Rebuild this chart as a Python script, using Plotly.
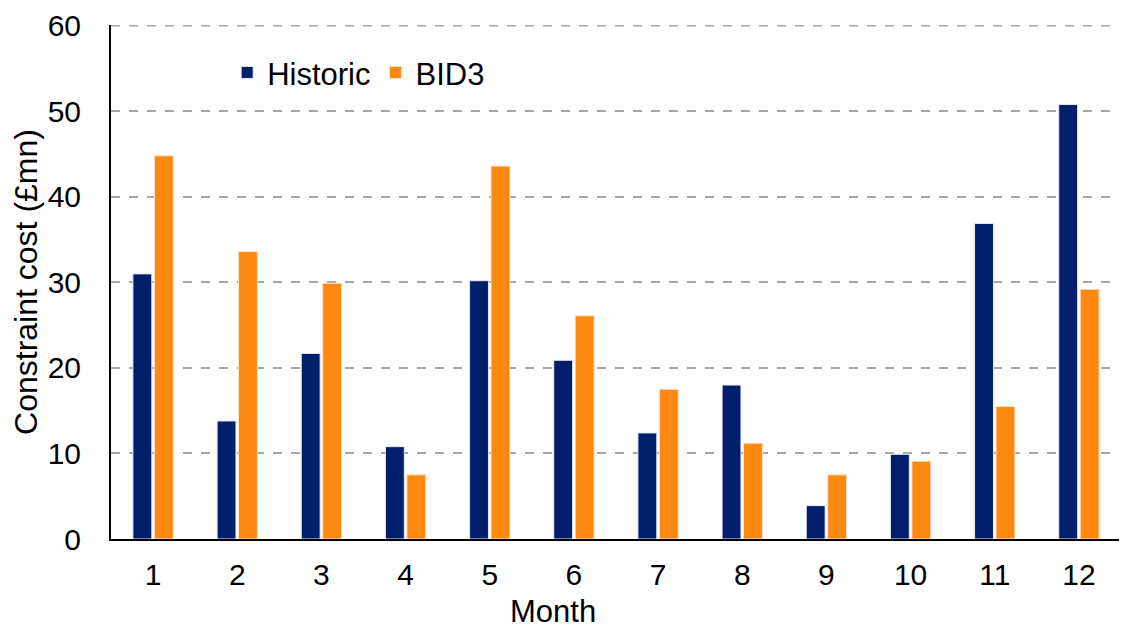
import plotly.graph_objects as go

months = [str(i) for i in range(1, 13)]
historic = [31.0, 13.8, 21.7, 10.8, 30.2, 20.9, 12.4, 18.0, 3.9, 9.9, 36.9, 50.8]
bid3 = [44.8, 33.6, 29.9, 7.5, 43.6, 26.1, 17.5, 11.2, 7.5, 9.1, 15.5, 29.2]
y_ticks = [0, 10, 20, 30, 40, 50, 60]

fig = go.Figure()
fig.add_trace(go.Bar(name="Historic", x=months, y=historic,
                     marker=dict(color="#001E6C", line=dict(color="#E6E9F0", width=1))))
fig.add_trace(go.Bar(name="BID3", x=months, y=bid3,
                     marker=dict(color="#FF8811", line=dict(color="#FFE3C8", width=1))))

font = "Liberation Sans, Arial, sans-serif"
fig.update_layout(
    width=1119, height=620,
    margin=dict(l=103, r=6, t=17, b=89, autoexpand=False),
    paper_bgcolor="white", plot_bgcolor="white",
    barmode="group", bargap=0.49, bargroupgap=0.12,
    font=dict(family=font, size=30, color="black"),
    legend=dict(orientation="h", x=0.115, y=0.907, xanchor="left", yanchor="middle",
                font=dict(size=31), itemwidth=30, bgcolor="rgba(0,0,0,0)"),
    xaxis=dict(
        showline=True, linecolor="black", linewidth=2, automargin=False,
        ticks="outside", ticklen=8, tickcolor="rgba(0,0,0,0)",
        showgrid=False, tickfont=dict(size=30),
    ),
    yaxis=dict(
        title=dict(text="Constraint cost (£mn)", font=dict(size=32), standoff=13),
        range=[0, 60.1], tickvals=y_ticks, automargin=False,
        showline=True, linecolor="black", linewidth=2,
        showgrid=True, gridcolor="#A6A6A6", griddash="dash", gridwidth=1.5,
        zeroline=False, ticks="outside", ticklen=22, tickcolor="rgba(0,0,0,0)",
        tickfont=dict(size=30),
    ),
    annotations=[dict(text="Month", xref="paper", yref="paper", x=0.4376, y=-0.142,
                      xanchor="center", yanchor="middle", showarrow=False,
                      font=dict(size=31, family=font, color="black"))],
)
# top gridline at the last tick (plotly drops the grid line at the range edge)
fig.add_hline(y=max(y_ticks), line=dict(color="#A6A6A6", dash="dash", width=1.5), layer="below")

fig.write_html("out.html")
